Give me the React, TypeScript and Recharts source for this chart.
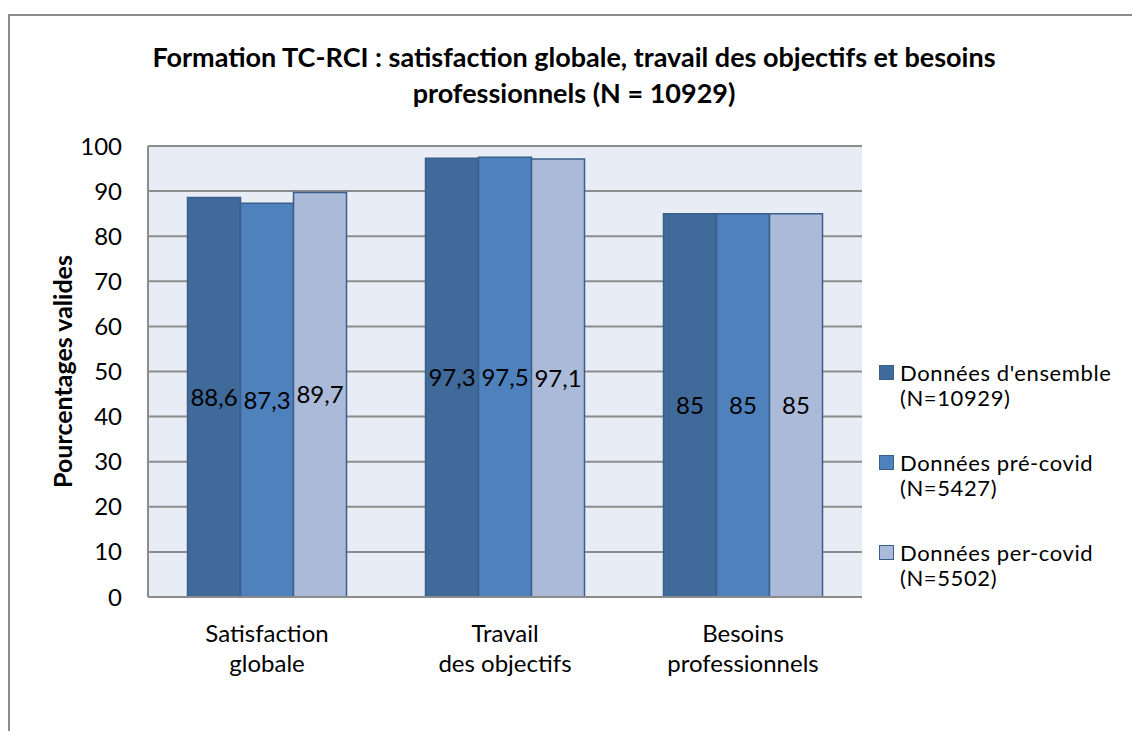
import { BarChart, Bar, XAxis, YAxis, CartesianGrid, Legend, LabelList } from 'recharts'

const categories = ['Satisfaction globale', 'Travail des objectifs', 'Besoins professionnels']
const categoryLines = [['Satisfaction', 'globale'], ['Travail', 'des objectifs'], ['Besoins', 'professionnels']]
const ensemble = [88.6, 97.3, 85]
const preCovid = [87.3, 97.5, 85]
const perCovid = [89.7, 97.1, 85]
const yTicks = [0, 10, 20, 30, 40, 50, 60, 70, 80, 90, 100]

const seriesInfo = [
  { key: 'ensemble', name: "Données d'ensemble", sub: '(N=10929)', color: '#3f6a9a' },
  { key: 'preCovid', name: 'Données pré-covid', sub: '(N=5427)', color: '#4f81bd' },
  { key: 'perCovid', name: 'Données per-covid', sub: '(N=5502)', color: '#aabad8' },
]

const data = categories.map((c, i) => ({
  name: c,
  ensemble: ensemble[i],
  preCovid: preCovid[i],
  perCovid: perCovid[i],
}))

const FONT = 'Lato, "Open Sans", sans-serif'
const fmt = (v: number) => String(v).replace('.', ',')

const XTick = ({ x, y, payload }: any) => {
  const lines = categoryLines[payload.index] || [payload.value]
  return (
    <text x={x} y={y} textAnchor="middle" fontSize={24} fill="#000" fontFamily={FONT}>
      {lines.map((l, i) => (
        <tspan key={i} x={x} dy={i === 0 ? 37 : 30}>{l}</tspan>
      ))}
    </text>
  )
}

const LegendContent = () => (
  <div style={{ fontFamily: FONT, fontSize: 22, letterSpacing: '0.6px', color: '#000', textAlign: 'left' }}>
    {seriesInfo.map((s) => (
      <div key={s.key} style={{ display: 'flex', alignItems: 'flex-start', marginBottom: 40, lineHeight: '25px' }}>
        <div style={{ width: 13, height: 13, background: s.color, border: '1.5px solid #3a5f8b', marginTop: 5, marginRight: 6, flexShrink: 0 }} />
        <div>
          <div style={{ whiteSpace: 'nowrap' }}>{s.name}</div>
          <div>{s.sub}</div>
        </div>
      </div>
    ))}
  </div>
)

const YLabel = ({ viewBox }: any) => {
  const cy = viewBox.y + viewBox.height / 2
  return (
    <text x={62} y={cy} transform={`rotate(-90, 62, ${cy})`} textAnchor="middle" dominantBaseline="central"
      fontSize={25} fontWeight={700} fontFamily={FONT} fill="#000">
      Pourcentages valides
    </text>
  )
}

export default function App() {
  return (
    <div style={{ position: 'absolute', left: 0, top: 0, width: 1132, height: 731, overflow: 'hidden', background: '#fff' }}>
      <div style={{ position: 'absolute', left: 8, top: 14, width: 2000, height: 2000, borderLeft: '2px solid #8c8c8c', borderTop: '2px solid #8c8c8c' }} />
      <div style={{ position: 'absolute', left: 74, top: 39, width: 1000, textAlign: 'center', fontFamily: FONT, fontWeight: 700, fontSize: 27, lineHeight: '36px', color: '#000' }}>
        Formation TC-RCI : satisfaction globale, travail des objectifs et besoins<br />professionnels (N = 10929)
      </div>
      <div style={{ position: 'absolute', left: 0, top: 0 }}>
        <BarChart width={1132} height={731} data={data} margin={{ top: 146, right: 270, left: 62, bottom: 74 }}
          barCategoryGap="16.6%" barGap={0}>
          <CartesianGrid vertical={false} stroke="#8c8c8c" strokeWidth={2} fill="#e8edf5" fillOpacity={1} />
          <XAxis dataKey="name" height={60} tickLine={false} axisLine={{ stroke: '#8c8c8c', strokeWidth: 2 }} tick={<XTick />} interval={0} />
          <YAxis domain={[0, 100]} ticks={yTicks} width={86} tickLine={false} tickMargin={20}
            axisLine={{ stroke: '#8c8c8c', strokeWidth: 2 }}
            tick={{ fontSize: 24, fill: '#000', fontFamily: FONT }}
            label={{ content: YLabel }} />
          <Legend layout="horizontal" verticalAlign="middle" align="center" content={LegendContent}
            wrapperStyle={{ left: 879, top: 360, width: 260 }} />
          {seriesInfo.map((s) => (
            <Bar key={s.key} dataKey={s.key} name={s.name} fill={s.color} stroke="#3a5f8b" strokeWidth={1.5} isAnimationActive={false}>
              <LabelList dataKey={s.key} position="center" formatter={(v: any) => fmt(v)} fontSize={24} fill="#000" fontFamily={FONT} />
            </Bar>
          ))}
        </BarChart>
      </div>
    </div>
  )
}
